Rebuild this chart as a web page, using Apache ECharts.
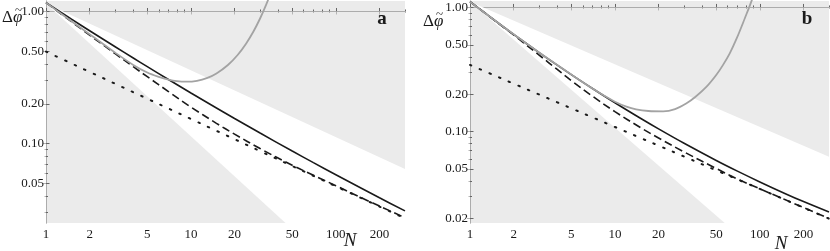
<!DOCTYPE html>
<html><head><meta charset="utf-8">
<script src="https://cdn.jsdelivr.net/npm/echarts@6/dist/echarts.min.js"></script>
<style>html,body{margin:0;padding:0;background:#fff}#c{width:830px;height:251px}</style>
</head><body><div id="c"></div>
<script>
// ---------- data ----------
const nValues = [1, 1.5, 2, 3, 4, 5, 7, 10, 15, 20, 30, 50, 70, 100, 150, 200, 300];

const aSolid  = [1.167, 0.8748, 0.7152, 0.5402, 0.4440, 0.3821, 0.3053, 0.2415, 0.1858, 0.1547, 0.1200, 0.0877, 0.0716, 0.0580, 0.0458, 0.0388, 0.0309];
const aDashed = [1.167, 0.8369, 0.6627, 0.4791, 0.3817, 0.3207, 0.2475, 0.1888, 0.1422, 0.1178, 0.0916, 0.0684, 0.0575, 0.0479, 0.0388, 0.0336, 0.0274];
const aDotted = [0.4966, 0.4039, 0.3487, 0.2836, 0.2448, 0.2185, 0.1841, 0.1535, 0.1248, 0.1078, 0.0876, 0.0675, 0.0569, 0.0474, 0.0386, 0.0333, 0.0271];
const aGrayN  = [1, 1.5, 2, 3, 4, 5, 6, 7, 8, 9.3, 11, 13, 15, 18, 21, 24, 27, 30, 33, 36];
const aGray   = [1.167, 0.843, 0.673, 0.488, 0.394, 0.345, 0.320, 0.305, 0.297, 0.294, 0.2985, 0.314, 0.339, 0.393, 0.468, 0.570, 0.705, 0.885, 1.122, 1.435];
const aWedgeN = [1, 300];
const aWedgeUpper = [1.15, 0.064];
const aWedgeLower = [1.15, 0.0037];

const bSolid  = [1.114, 0.7774, 0.6069, 0.4326, 0.3428, 0.2875, 0.2221, 0.1705, 0.1278, 0.1049, 0.0803, 0.0584, 0.0479, 0.0392, 0.0315, 0.0272, 0.0224];
const bDashed = [1.114, 0.7756, 0.5999, 0.4131, 0.3162, 0.2574, 0.1925, 0.1445, 0.1075, 0.0885, 0.0684, 0.0503, 0.0414, 0.0345, 0.02815, 0.02434, 0.01988];
const bDotted = [0.3439, 0.2807, 0.2430, 0.1985, 0.1718, 0.1537, 0.1300, 0.1087, 0.0887, 0.0769, 0.0628, 0.0486, 0.0411, 0.0344, 0.0281, 0.0243, 0.0198];
const bGrayN  = [1, 1.5, 2, 3, 4, 5, 7, 8.5, 10, 12, 14, 17, 21.5, 26, 31.2, 36, 42.9, 50, 55.6, 62, 69.2, 78.9, 87.8, 95];
const bGray   = [1.114, 0.7774, 0.6069, 0.4326, 0.3428, 0.2875, 0.2221, 0.1932, 0.1738, 0.1585, 0.1507, 0.1462, 0.1452, 0.1514, 0.1687, 0.1905, 0.2296, 0.2851, 0.3428, 0.4266, 0.5623, 0.8222, 1.135, 1.514];
const bWedgeN = [1, 300];
const bWedgeUpper = [1.11, 0.0626];
const bWedgeLower = [1.11, 0.0034];

const xMajorTicks = [1, 2, 5, 10, 20, 50, 100, 200];
const xMinorTicks = [3, 4, 6, 7, 8, 9, 30, 40, 60, 70, 80, 90, 300];
const aYMajorTicks = [1, 0.5, 0.2, 0.1, 0.05];
const bYMajorTicks = [1, 0.5, 0.2, 0.1, 0.05, 0.02];
const yMinorTicks = [0.9, 0.8, 0.7, 0.6, 0.4, 0.3, 0.09, 0.08, 0.07, 0.06, 0.04, 0.03];
const xRange = [1, 300];
const aYRange = [0.02500, 1.2008];
const bYRange = [0.01828, 1.1272];
const panelLetters = ['a', 'b'];

// ---------- build ----------
const L = Math.log10;
const SERIF = '"Liberation Serif", "DejaVu Serif", serif';
const chart = echarts.init(document.getElementById('c'), null, {renderer: 'canvas'});

const grids = [
  {left: 46, top: 1, width: 359, height: 222},
  {left: 470, top: 1, width: 359, height: 222}
];
const xAxes = [], yAxes = [], series = [];

function lg(arr) { return arr.map(L); }

function addPanel(g, yRange, yMajor, solid, dashed, dotted, grayN, gray, wN, wU, wLo) {
  const xBase = xAxes.length, yBase = yAxes.length;
  const common = {gridIndex: g, type: 'value', splitLine: {show: false}};
  const xmin = L(xRange[0]), xmax = L(xRange[1]);
  const ymin = L(yRange[0]), ymax = L(yRange[1]);
  const lineStyle = {color: '#acacac', width: 1};
  [['bottom', true], ['top', false]].forEach(([pos, lab]) => {
    const tc = lab ? '#666' : '#b4b4b4';
    xAxes.push(Object.assign({}, common, {
      position: pos, min: xmin, max: xmax,
      axisLine: {show: true, lineStyle},
      axisTick: {show: true, inside: true, length: lab ? 3.5 : 3, lineStyle: {color: tc, width: 1}, customValues: lg(xMajorTicks)},
      axisLabel: {show: lab, margin: 5, color: '#1a1a1a', fontFamily: SERIF, fontSize: 13,
        customValues: lg(xMajorTicks), formatter: v => String(Math.round(Math.pow(10, v)))}
    }));
    xAxes.push(Object.assign({}, common, {
      position: pos, min: xmin, max: xmax,
      axisLine: {show: false},
      axisTick: {show: true, inside: true, length: lab ? 2 : 1.5, lineStyle: {color: tc, width: 1}, customValues: lg(xMinorTicks)},
      axisLabel: {show: false}
    }));
  });
  [['left', true], ['right', false]].forEach(([pos, lab]) => {
    const tc = lab ? '#666' : '#b4b4b4';
    yAxes.push(Object.assign({}, common, {
      position: pos, min: ymin, max: ymax,
      axisLine: {show: true, lineStyle},
      axisTick: {show: true, inside: true, length: lab ? 3.5 : 3, lineStyle: {color: tc, width: 1}, customValues: lg(yMajor)},
      axisLabel: {show: lab, margin: 2, color: '#1a1a1a', fontFamily: SERIF, fontSize: 13,
        customValues: lg(yMajor), formatter: v => Math.pow(10, v).toFixed(2)}
    }));
    yAxes.push(Object.assign({}, common, {
      position: pos, min: ymin, max: ymax,
      axisLine: {show: false},
      axisTick: {show: true, inside: true, length: lab ? 2 : 1.5, lineStyle: {color: tc, width: 1}, customValues: lg(yMinorTicks)},
      axisLabel: {show: false}
    }));
  });
  const ax = {xAxisIndex: xBase, yAxisIndex: yBase};
  // white wedge between the two bounds
  series.push(Object.assign({
    type: 'custom', z: 1, silent: true,
    data: [[0, 0]],
    renderItem: function (params, api) {
      const pts = [];
      for (let i = 0; i < wN.length; i++) pts.push(api.coord([L(wN[i]), L(wU[i])]));
      for (let i = wN.length - 1; i >= 0; i--) pts.push(api.coord([L(wN[i]), L(wLo[i])]));
      const cs = params.coordSys;
      return {
        type: 'group',
        clipPath: {type: 'rect', shape: {x: cs.x, y: cs.y, width: cs.width, height: cs.height}},
        children: [{type: 'polygon', shape: {points: pts}, style: {fill: '#ffffff'}}]
      };
    }
  }, ax));
  const mk = (ns, vs) => ns.map((n, i) => [L(n), L(vs[i])]);
  const base = {type: 'line', showSymbol: false, symbol: 'none', smooth: 0.35, silent: true, clip: true, z: 3};
  series.push(Object.assign({}, base, ax, {data: mk(nValues, dotted),
    lineStyle: {color: '#1a1a1a', width: 2, type: [1.5, 9], cap: 'round'}}));
  series.push(Object.assign({}, base, ax, {data: mk(nValues, dashed),
    lineStyle: {color: '#1a1a1a', width: 1.6, type: [8, 4]}}));
  series.push(Object.assign({}, base, ax, {data: mk(nValues, solid),
    lineStyle: {color: '#1a1a1a', width: 1.6}}));
  series.push(Object.assign({}, base, ax, {data: mk(grayN, gray), z: 4,
    lineStyle: {color: '#a3a3a3', width: 1.8}}));
}

addPanel(0, aYRange, aYMajorTicks, aSolid, aDashed, aDotted, aGrayN, aGray, aWedgeN, aWedgeUpper, aWedgeLower);
addPanel(1, bYRange, bYMajorTicks, bSolid, bDashed, bDotted, bGrayN, bGray, bWedgeN, bWedgeUpper, bWedgeLower);

// y-axis symbol: Δ + italic φ with a tilde above it
const yName = (x, cy) => ([
  {type: 'text', x: x, y: cy, silent: true, z: 10,
   style: {text: 'Δ', fill: '#1a1a1a', fontFamily: SERIF, fontSize: 17, verticalAlign: 'middle', align: 'left'}},
  {type: 'text', x: x + 11, y: cy, silent: true, z: 10,
   style: {text: 'φ', fill: '#1a1a1a', fontFamily: SERIF, fontSize: 17, fontStyle: 'italic', verticalAlign: 'middle', align: 'left'}},
  {type: 'text', x: x + 16.5, y: cy - 7, silent: true, z: 10,
   style: {text: '~', fill: '#1a1a1a', fontFamily: SERIF, fontSize: 13, verticalAlign: 'middle', align: 'center'}}
]);
const txt = (x, y, t, opt) => ({
  type: 'text', x: x, y: y, silent: true, z: 10,
  style: Object.assign({text: t, fill: '#1a1a1a', fontFamily: SERIF, align: 'center', verticalAlign: 'middle'}, opt)
});

chart.setOption({
  animation: false,
  backgroundColor: '#ffffff',
  grid: grids.map(g => Object.assign({show: true, backgroundColor: '#ebebeb', borderWidth: 0}, g)),
  xAxis: xAxes,
  yAxis: yAxes,
  series: series,
  graphic: [].concat(
    yName(2, 18), yName(423, 22),
    [
      txt(382, 19, panelLetters[0], {fontSize: 19, fontWeight: 'bold'}),
      txt(807, 19, panelLetters[1], {fontSize: 19, fontWeight: 'bold'}),
      txt(350, 241, 'N', {fontSize: 19, fontStyle: 'italic'}),
      txt(781, 244, 'N', {fontSize: 19, fontStyle: 'italic'})
    ])
});
</script>
</body></html>
